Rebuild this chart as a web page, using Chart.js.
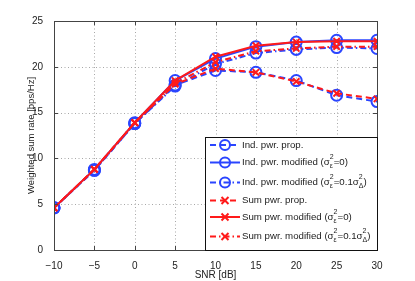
<!DOCTYPE html>
<html>
<head>
<meta charset="utf-8">
<script src="https://cdn.jsdelivr.net/npm/chart.js@4.4.0/dist/chart.umd.min.js"></script>
<style>
  html, body { margin: 0; padding: 0; background: #fff; }
  #wrap { width: 415px; height: 281px; position: relative; }
</style>
</head>
<body>
<div id="wrap"><canvas id="c" width="415" height="281"></canvas></div>
<script>
// SNR points and weighted sum rates
const snr = [-10, -5, 0, 5, 10, 15, 20, 25, 30];
const indProp = [4.6, 8.7, 13.8, 18.0, 19.6, 19.4, 18.5, 16.9, 16.2];
const indMod = [4.6, 8.8, 13.9, 18.5, 20.9, 22.2, 22.7, 22.9, 22.9];
const indModErr = [4.6, 8.7, 13.8, 17.9, 20.3, 21.5, 21.9, 22.1, 22.0];
const sumProp = [4.6, 8.8, 13.9, 18.1, 19.8, 19.4, 18.4, 17.1, 16.5];
const sumMod = [4.6, 8.8, 13.9, 18.5, 21.1, 22.3, 22.7, 22.8, 22.8];
const sumModErr = [4.6, 8.8, 13.9, 18.2, 20.5, 21.7, 22.0, 22.2, 22.2];

const BLUE = '#2a45ff';
const RED = '#ff1a1a';
const FONT = '"Liberation Sans", Arial, sans-serif';

const DASH = [6, 4];
const DASHDOT = [6, 3, 1.5, 3];

function pts(ys) {
  return snr.map((x, i) => ({ x: x, y: ys[i] }));
}

function ds(label, ys, color, dash, marker, order) {
  return {
    label: label,
    data: pts(ys),
    borderColor: color,
    backgroundColor: 'rgba(0,0,0,0)',
    borderWidth: 2,
    borderDash: dash,
    pointStyle: marker,
    pointRadius: marker === 'circle' ? 5.5 : 4.5,
    pointBorderWidth: 2,
    pointBorderColor: color,
    pointBackgroundColor: 'rgba(0,0,0,0)',
    tension: 0,
    order: order,
  };
}

const datasets = [
  ds('Ind. pwr. prop.', indProp, BLUE, DASH, 'circle', 2),
  ds('Ind. pwr. modified', indMod, BLUE, [], 'circle', 2),
  ds('Ind. pwr. modified', indModErr, BLUE, DASHDOT, 'circle', 2),
  ds('Sum pwr. prop.', sumProp, RED, DASH, 'crossRot', 1),
  ds('Sum pwr. modified', sumMod, RED, [], 'crossRot', 1),
  ds('Sum pwr. modified', sumModErr, RED, DASHDOT, 'crossRot', 1),
];

// legend text pieces: [text, kind] where kind is 'n' normal or 'sup' (with sub under it)
const legendRows = [
  [['Ind. pwr. prop.', 'n']],
  [['Ind. pwr. modified (\u03c3', 'n'], ['2', 'sup', '\u03b5'], ['=0)', 'n']],
  [['Ind. pwr. modified (\u03c3', 'n'], ['2', 'sup', '\u03b5'], ['=0.1\u03c3', 'n'], ['2', 'sup', '\u0394'], [')', 'n']],
  [['Sum pwr. prop.', 'n']],
  [['Sum pwr. modified (\u03c3', 'n'], ['2', 'sup', '\u03b5'], ['=0)', 'n']],
  [['Sum pwr. modified (\u03c3', 'n'], ['2', 'sup', '\u03b5'], ['=0.1\u03c3', 'n'], ['2', 'sup', '\u0394'], [')', 'n']],
];
const rowY = [145, 162.5, 182.5, 200.5, 217, 236.5];

const grid = {
  id: 'dotgrid',
  beforeDatasetsDraw(chart) {
    const { ctx, chartArea: a, scales } = chart;
    ctx.save();
    ctx.strokeStyle = '#a8a8a8';
    ctx.lineWidth = 1;
    ctx.setLineDash([1, 2.5]);
    ctx.beginPath();
    scales.x.ticks.forEach(t => {
      const px = Math.round(scales.x.getPixelForValue(t.value)) + 0.5;
      ctx.moveTo(px, a.bottom); ctx.lineTo(px, a.top);
    });
    scales.y.ticks.forEach(t => {
      const py = Math.round(scales.y.getPixelForValue(t.value)) + 0.5;
      ctx.moveTo(a.left, py); ctx.lineTo(a.right, py);
    });
    ctx.stroke();
    ctx.restore();
  }
};

const frame = {
  id: 'frame',
  afterDraw(chart) {
    const { ctx, chartArea: a, scales } = chart;
    ctx.save();
    ctx.strokeStyle = '#444';
    ctx.lineWidth = 1;
    // inward tick marks
    ctx.beginPath();
    scales.x.ticks.forEach(t => {
      const px = Math.round(scales.x.getPixelForValue(t.value)) + 0.5;
      ctx.moveTo(px, a.bottom); ctx.lineTo(px, a.bottom - 4);
      ctx.moveTo(px, a.top); ctx.lineTo(px, a.top + 4);
    });
    scales.y.ticks.forEach(t => {
      const py = Math.round(scales.y.getPixelForValue(t.value)) + 0.5;
      ctx.moveTo(a.left, py); ctx.lineTo(a.left + 4, py);
      ctx.moveTo(a.right, py); ctx.lineTo(a.right - 4, py);
    });
    ctx.stroke();
    ctx.strokeRect(Math.round(a.left) + 0.5, Math.round(a.top) + 0.5,
      Math.round(a.right - a.left), Math.round(a.bottom - a.top));

    // legend box
    const lx = 205, ly = 137, lw = Math.round(a.right) - lx, lh = Math.round(a.bottom) - ly;
    ctx.fillStyle = '#fff';
    ctx.fillRect(lx, ly, lw, lh);
    ctx.strokeStyle = '#111';
    ctx.strokeRect(lx + 0.5, ly + 0.5, lw, lh);

    datasets.forEach((d, i) => {
      const y = rowY[i];
      const x0 = 210, x1 = 240;
      ctx.save();
      ctx.strokeStyle = d.borderColor;
      ctx.lineWidth = 2;
      ctx.setLineDash(d.borderDash);
      ctx.beginPath();
      ctx.moveTo(x0, y); ctx.lineTo(x1, y);
      ctx.stroke();
      ctx.setLineDash([]);
      const mx = (x0 + x1) / 2;
      ctx.beginPath();
      if (d.pointStyle === 'circle') {
        ctx.arc(mx, y, 5, 0, Math.PI * 2);
      } else {
        const r = 3.5;
        ctx.moveTo(mx - r, y - r); ctx.lineTo(mx + r, y + r);
        ctx.moveTo(mx + r, y - r); ctx.lineTo(mx - r, y + r);
      }
      ctx.stroke();
      ctx.restore();

      // text
      let tx = 242;
      ctx.fillStyle = '#222';
      ctx.textBaseline = 'middle';
      ctx.textAlign = 'left';
      legendRows[i].forEach(p => {
        if (p[1] === 'n') {
          ctx.font = '9.7px ' + FONT;
          ctx.fillText(p[0], tx, y);
          tx += ctx.measureText(p[0]).width;
        } else {
          ctx.font = '7px ' + FONT;
          ctx.fillText(p[0], tx, y - 5);
          const w1 = ctx.measureText(p[0]).width;
          ctx.fillText(p[2], tx, y + 4);
          const w2 = ctx.measureText(p[2]).width;
          tx += Math.max(w1, w2);
        }
      });
    });
    ctx.restore();
  }
};

new Chart(document.getElementById('c'), {
  type: 'line',
  data: { datasets: datasets },
  plugins: [grid, frame],
  options: {
    responsive: false,
    animation: false,
    layout: { padding: { top: 21, right: 38, left: 26, bottom: 0 } },
    plugins: { legend: { display: false }, tooltip: { enabled: false } },
    scales: {
      x: {
        type: 'linear',
        min: -10,
        max: 30,
        afterFit: s => { s.height = 31; },
        ticks: {
          stepSize: 5,
          color: '#222',
          font: { family: FONT, size: 10 },
          padding: 2,
          maxRotation: 0,
          callback: v => String(v).replace('-', '\u2212'),
        },
        grid: { display: false },
        border: { display: false },
        title: {
          display: true,
          text: 'SNR [dB]',
          color: '#222',
          font: { family: FONT, size: 10 },
          padding: { top: 0, bottom: 0 },
        },
      },
      y: {
        min: 0,
        max: 25,
        afterFit: s => { s.width = 28; },
        ticks: {
          stepSize: 5,
          color: '#222',
          font: { family: FONT, size: 10 },
          padding: 3,
        },
        grid: { display: false },
        border: { display: false },
        title: {
          display: true,
          text: 'Weighted sum rate [bps/Hz]',
          color: '#222',
          font: { family: FONT, size: 9.5 },
          padding: { top: 0, bottom: 0 },
        },
      },
    },
  },
});
</script>
</body>
</html>
